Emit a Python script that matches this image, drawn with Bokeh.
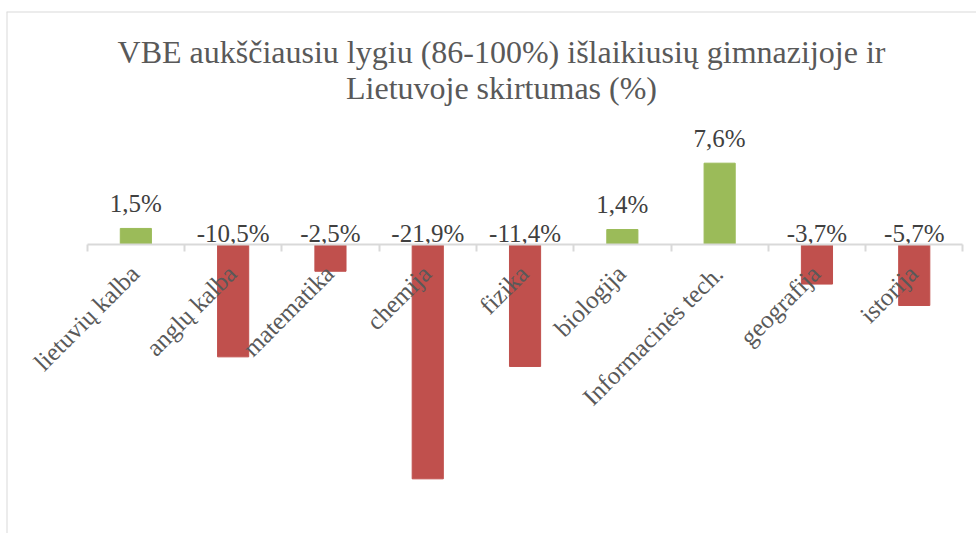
import math
from bokeh.plotting import figure
from bokeh.models import Range1d, ColumnDataSource, LinearAxis, FixedTicker, Span, Label
from bokeh.core.properties import value
from bokeh.embed import file_html
from bokeh.resources import INLINE

# ---- data ----
categories = ["lietuvių kalba", "anglų kalba", "matematika", "chemija", "fizika",
              "biologija", "Informacinės tech.", "geografija", "istorija"]
differences = [1.5, -10.5, -2.5, -21.9, -11.4, 1.4, 7.6, -3.7, -5.7]
title_lines = ["VBE aukščiausiu lygiu (86-100%) išlaikiusių gimnazijoje ir",
               "Lietuvoje skirtumas (%)"]

# ---- styling / layout ----
FONT = "Liberation Serif"
POS_COLOR = "#9BBB59"
NEG_COLOR = "#C0504D"
GRID_GRAY = "#D9D9D9"
W, H = 976, 533
LEFT_PAD = 6
TOP_PAD = 11
CAT_PX = 97.3
X0 = -(86.7 - LEFT_PAD) / CAT_PX
X1 = X0 + (W - LEFT_PAD) / CAT_PX
PX_PER_UNIT = 10.7
ZERO_PX = 244 - TOP_PAD  # zero line distance from frame top (px)
Y1 = ZERO_PX / PX_PER_UNIT
Y0 = Y1 - (H - TOP_PAD) / PX_PER_UNIT

n = len(categories)
centers = [i + 0.5 for i in range(n)]
colors = [POS_COLOR if v >= 0 else NEG_COLOR for v in differences]
label_y = [max(v, 0) for v in differences]
label_off = [-25 if v >= 0 else -11 for v in differences]
label_txt = [f"{v:.1f}%".replace(".", ",") for v in differences]

src = ColumnDataSource(dict(x=centers, top=differences, color=colors,
                            ly=label_y, loff=label_off, ltxt=label_txt,
                            cat=categories, zero=[0] * n))

p = figure(width=W, height=H, x_range=Range1d(X0, X1), y_range=Range1d(Y0, Y1),
           output_backend="svg", toolbar_location=None,
           min_border_left=LEFT_PAD, min_border_right=0, min_border_top=TOP_PAD,
           min_border_bottom=0)
p.xaxis.visible = False
p.yaxis.visible = False
p.xgrid.visible = False
p.ygrid.visible = False
p.outline_line_color = None
p.background_fill_color = "white"
p.border_fill_color = "white"

# chart border (left + top)
p.add_layout(Span(location=X0, dimension="height", line_color=GRID_GRAY, line_width=2))
p.add_layout(Span(location=Y1, dimension="width", line_color=GRID_GRAY, line_width=2))

# bars
p.vbar(x="x", top="top", bottom=0, width=0.32, color="color", source=src)

# category axis line with boundary ticks
ax = LinearAxis(fixed_location=0, ticker=FixedTicker(ticks=list(range(n + 1))),
                bounds=(0, n))
ax.axis_line_color = GRID_GRAY
ax.axis_line_width = 2
ax.major_tick_line_color = GRID_GRAY
ax.major_tick_line_width = 2
ax.major_tick_in = 0
ax.major_tick_out = 7
ax.minor_tick_line_color = None
ax.major_label_text_color = None
p.add_layout(ax, "below")

# data labels
p.text(x="x", y="ly", text="ltxt", y_offset="loff", source=src,
       text_align="center", text_baseline="middle",
       text_font=value(FONT), text_font_size="25px", text_color="#404040")

# category labels (rotated)
p.text(x="x", y="zero", text="cat", source=src, angle=math.pi / 4,
       x_offset=-1, y_offset=25, text_align="right", text_baseline="middle",
       text_font=value(FONT), text_font_size="25px", text_color="#595959")

# title
def py(px_from_top):
    return Y1 - (px_from_top - TOP_PAD) / PX_PER_UNIT

def px(px_from_left):
    return X0 + (px_from_left - LEFT_PAD) / CAT_PX

for line, mid in zip(title_lines, [51, 87]):
    p.add_layout(Label(x=px(501), y=py(mid), text=line, text_align="center",
                       text_baseline="middle", text_font=FONT,
                       text_font_size="32px", text_color="#595959"))

open("out.html", "w").write(file_html(p, INLINE))
